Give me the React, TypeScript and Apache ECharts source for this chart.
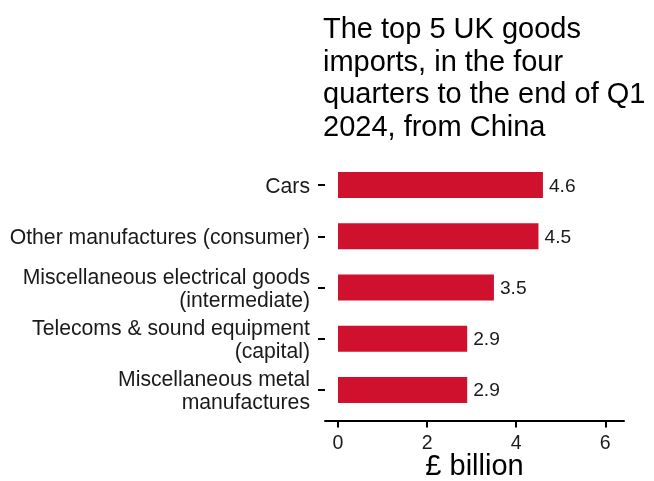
import React, { useEffect, useRef } from "react";
import * as echarts from "echarts";

const categories = [
  "Cars",
  "Other manufactures (consumer)",
  "Miscellaneous electrical goods\n(intermediate)",
  "Telecoms & sound equipment\n(capital)",
  "Miscellaneous metal\nmanufactures",
];
const values = [4.6, 4.5, 3.5, 2.9, 2.9];
const xTicks = [0, 2, 4, 6];
const titleText =
  "The top 5 UK goods\nimports, in the four\nquarters to the end of Q1\n2024, from China";
const xName = "£ billion";

export default function App() {
  const ref = useRef<HTMLDivElement>(null);
  useEffect(() => {
    const chart = echarts.init(ref.current!, null, { renderer: "svg" });
    const font = "Liberation Sans, Arial, sans-serif";
    chart.setOption({
      animation: false,
      textStyle: { fontFamily: font },
      title: {
        text: titleText,
        left: 318,
        top: 7,
        textStyle: {
          fontFamily: font,
          fontSize: 29,
          fontWeight: "normal",
          color: "#000",
          lineHeight: 32.5,
        },
      },
      grid: {
        left: 325,
        right: 30,
        top: 159.4,
        bottom: 481 - 415.6,
        outerBoundsMode: "none",
        containLabel: false,
      },
      xAxis: {
        type: "value",
        min: -0.292,
        max: 6.42,
        offset: 5,
        splitLine: { show: false },
        axisLine: { show: true, onZero: false, lineStyle: { color: "#000", width: 2 } },
        axisTick: {
          show: true,
          length: 7,
          lineStyle: { color: "#000", width: 2 },
          customValues: xTicks,
        },
        axisLabel: {
          customValues: xTicks,
          fontSize: 19.5,
          lineHeight: 18,
          color: "#1a1a1a",
          margin: 12,
          fontFamily: font,
        },
        name: xName,
        nameLocation: "middle",
        nameGap: 33.5,
        nameMoveOverlap: false,
        nameTextStyle: { fontSize: 29, lineHeight: 22, color: "#000", fontFamily: font },
      },
      yAxis: {
        type: "category",
        data: categories,
        inverse: true,
        axisLine: { show: false, onZero: false },
        axisTick: {
          show: true,
          alignWithLabel: true,
          length: 7,
          lineStyle: { color: "#000", width: 2 },
        },
        axisLabel: {
          fontSize: 21.2,
          color: "#1a1a1a",
          margin: 15,
          lineHeight: 23,
          align: "right",
          fontFamily: font,
        },
      },
      series: [
        {
          type: "bar",
          data: values,
          barWidth: 26,
          itemStyle: { color: "#CF112E" },
          label: {
            show: true,
            position: "right",
            distance: 6,
            fontSize: 19.2,
            color: "#1a1a1a",
            fontFamily: font,
          },
        },
      ],
    });
    return () => chart.dispose();
  }, []);
  return (
    <div
      ref={ref}
      style={{ position: "fixed", left: 0, top: 0, width: 654, height: 481 }}
    />
  );
}
